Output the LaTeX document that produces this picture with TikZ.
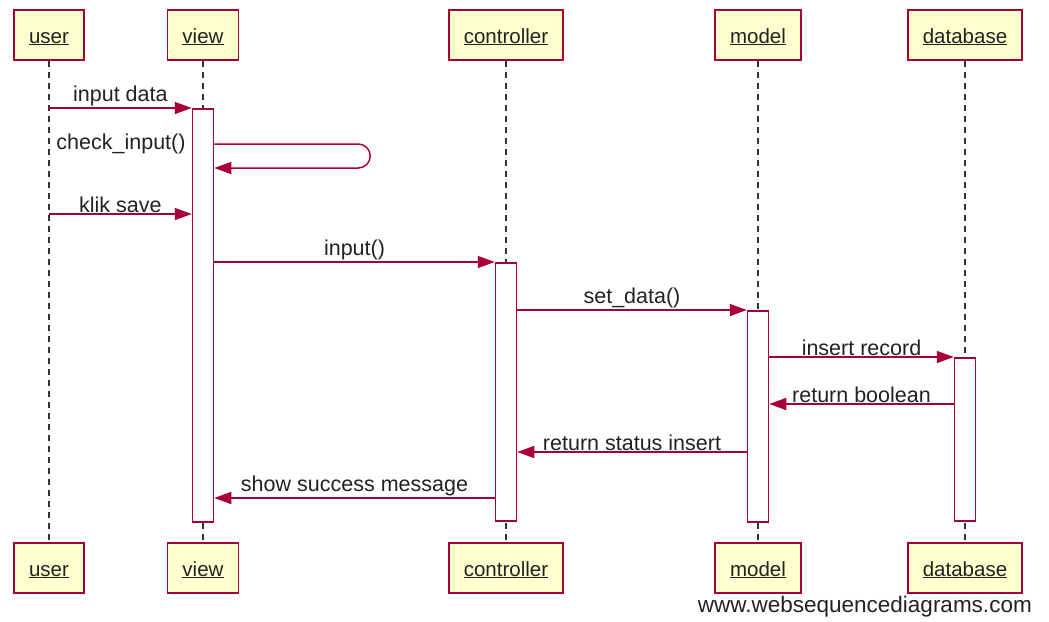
\documentclass[tikz,border=0pt]{standalone}
\usepackage{fontspec}
\setmainfont{Liberation Sans}
\usepackage{tikz}
\usetikzlibrary{arrows.meta,calc,positioning}
\definecolor{seqborder}{HTML}{A80036}
\definecolor{seqfill}{HTML}{FEFECE}
\definecolor{seqline}{HTML}{333333}
\definecolor{seqtext}{HTML}{222222}
\tikzset{%
  seqactor/.style={%
    draw=seqborder,
    fill=seqfill,
    line width=1.5pt,
    minimum height=50pt,
    inner xsep=15pt,
    text height=18pt,
    text depth=2pt,
    text=seqtext,
    font=\fontsize{20.5}{24}\selectfont
  },
  seqactivation/.style={%
    draw=seqborder,
    fill=white,
    line width=1.5pt,
    minimum width=21pt,
    inner sep=0pt,
    anchor=north
  },
  seqlifeline/.style={draw=seqline,line width=1.5pt,dash pattern=on 6pt off 5pt},
  seqmsg/.style={-{Triangle[length=17pt,width=12pt]},line width=1.5pt,draw=seqborder},
  seqlabel/.style={text=seqtext,inner xsep=2pt,inner ysep=1pt,font=\fontsize{21.5}{24}\selectfont}
}

\begin{document}
\begin{tikzpicture}[x=1pt,y=-1pt]
    \useasboundingbox (0,0) rectangle (1049,621);

    % participants, top and bottom
    \node[seqactor] (user) at (49,35) {\underline{user}};
    \node[seqactor] (view) at (203,35) {\underline{view}};
    \node[seqactor] (controller) at (506,35) {\underline{controller}};
    \node[seqactor] (model) at (758,35) {\underline{model}};
    \node[seqactor] (database) at (965,35) {\underline{database}};
    \node[seqactor] (userbottom) at (49,568) {\underline{user}};
    \node[seqactor] (viewbottom) at (203,568) {\underline{view}};
    \node[seqactor] (controllerbottom) at (506,568) {\underline{controller}};
    \node[seqactor] (modelbottom) at (758,568) {\underline{model}};
    \node[seqactor] (databasebottom) at (965,568) {\underline{database}};

    \foreach \p in {user,view,controller,model,database}
      \draw[seqlifeline] (\p.south) -- (\p bottom.north);

    % activations
    \node[seqactivation,minimum height=413pt] (viewact) at (view |- 0,108) {};
    \node[seqactivation,minimum height=258pt] (controlleract) at (controller |- 0,262) {};
    \node[seqactivation,minimum height=211pt] (modelact) at (model |- 0,310) {};
    \node[seqactivation,minimum height=163pt] (databaseact) at (database |- 0,357) {};

    \coordinate (checkout) at (0,144);
    \coordinate (checkback) at (0,168);
    \coordinate (kliksave) at (0,214);
    \coordinate (retbool) at (0,404);
    \coordinate (retstatus) at (0,452);
    \coordinate (showmsg) at (0,498);

    % messages
    \draw[seqmsg] (user |- viewact.north) -- node[seqlabel,above]{input data} (viewact.north west);
    \draw[seqmsg,rounded corners=12pt] (viewact.east |- checkout) -- ++(156,0) |- (viewact.east |- checkback);
    \node[seqlabel,anchor=east,xshift=-4pt] (checklabel) at (viewact.west |- checkout) {check\_input()};
    \draw[seqmsg] (user |- kliksave) -- node[seqlabel,above]{klik save} (viewact.west |- kliksave);
    \draw[seqmsg] (viewact.east |- controlleract.north) -- node[seqlabel,above]{input()} (controlleract.north west);
    \draw[seqmsg] (controlleract.east |- modelact.north) -- node[seqlabel,above]{set\_data()} (modelact.north west);
    \draw[seqmsg] (modelact.east |- databaseact.north) -- node[seqlabel,above]{insert record} (databaseact.north west);
    \draw[seqmsg] (databaseact.west |- retbool) -- node[seqlabel,above]{return boolean} (modelact.east |- retbool);
    \draw[seqmsg] (modelact.west |- retstatus) -- node[seqlabel,above]{return status insert} (controlleract.east |- retstatus);
    \draw[seqmsg] (controlleract.west |- showmsg) -- node[seqlabel,above]{show success message} (viewact.east |- showmsg);

    \node[anchor=east,text=seqtext,inner sep=0pt,font=\fontsize{22.5}{26}\selectfont] (credit) at (1032,607) {www.websequencediagrams.com};
  \end{tikzpicture}
\end{document}
